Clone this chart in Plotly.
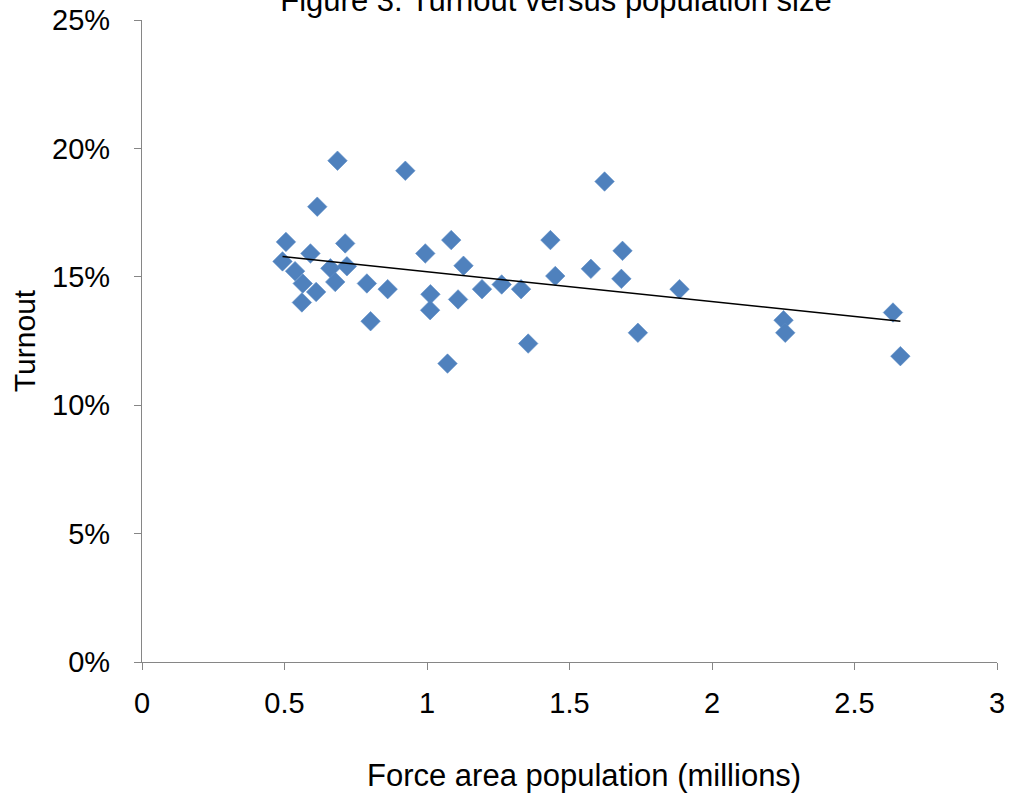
import numpy as np
import plotly.graph_objects as go

# Police force areas: population (millions) and election turnout (fraction)
population_m = [
    0.493, 0.505, 0.537, 0.564, 0.561, 0.591, 0.611, 0.615, 0.661, 0.678,
    0.686, 0.719, 0.713, 0.789, 0.802, 0.862, 0.924, 0.994, 1.012, 1.011,
    1.072, 1.085, 1.128, 1.109, 1.193, 1.262, 1.330, 1.355, 1.433, 1.450,
    1.575, 1.623, 1.686, 1.682, 1.740, 1.886, 2.251, 2.257, 2.635, 2.661,
]
turnout_pct = [
    15.60, 16.36, 15.22, 14.74, 14.00, 15.91, 14.41, 17.73, 15.33, 14.80,
    19.52, 15.41, 16.30, 14.74, 13.27, 14.52, 19.13, 15.91, 14.32, 13.70,
    11.62, 16.43, 15.43, 14.12, 14.52, 14.70, 14.52, 12.40, 16.43, 15.03,
    15.31, 18.71, 16.01, 14.92, 12.82, 14.52, 13.31, 12.82, 13.61, 11.91,
]
x_ticks = [0, 0.5, 1, 1.5, 2, 2.5, 3]
y_ticks = [0, 0.05, 0.10, 0.15, 0.20, 0.25]

x = np.array(population_m)
y = np.array(turnout_pct) / 100.0

# Least-squares linear trendline over the data range
slope, intercept = np.polyfit(x, y, 1)
trend_x = np.array([x.min(), x.max()])
trend_y = slope * trend_x + intercept

FONT = "Liberation Sans, Arial, sans-serif"
AXIS_GREY = "#868686"

fig = go.Figure()
fig.add_trace(go.Scatter(
    x=x, y=y, mode="markers",
    marker=dict(symbol="diamond", size=15, color="#4F81BD",
                line=dict(width=0.6, color="#5B8BC6")),
    showlegend=False, hoverinfo="x+y",
))
fig.add_trace(go.Scatter(
    x=trend_x, y=trend_y, mode="lines",
    line=dict(color="black", width=1.5),
    showlegend=False, hoverinfo="skip",
))

fig.update_layout(
    width=1012, height=796,
    paper_bgcolor="white", plot_bgcolor="white",
    margin=dict(l=142, r=15, t=20, b=134, autoexpand=False),
    font=dict(family=FONT, size=29, color="black"),
    title=dict(text="Figure 3: Turnout versus population size",
               x=556 / 1012, xanchor="center", xref="container",
               y=1.0, yanchor="middle", yref="container",
               font=dict(family=FONT, size=31, color="black")),
    xaxis=dict(
        range=[0, 3], tickvals=x_ticks, ticktext=[f"{v:g}" for v in x_ticks],
        showgrid=False, zeroline=False, automargin=False,
        showline=True, linecolor=AXIS_GREY, linewidth=1.3,
        ticks="outside", ticklen=7, tickcolor=AXIS_GREY, tickwidth=1.3,
        ticklabelstandoff=8,
    ),
    yaxis=dict(
        range=[0, 0.25], tickvals=y_ticks, tickformat=".0%",
        showgrid=False, zeroline=False, automargin=False,
        showline=True, linecolor=AXIS_GREY, linewidth=1.3,
        ticks="outside", ticklen=7, tickcolor=AXIS_GREY, tickwidth=1.3,
        ticklabelstandoff=18,
        title=dict(text="Turnout", standoff=7,
                   font=dict(family=FONT, size=30)),
    ),
    annotations=[dict(
        text="Force area population (millions)",
        xref="paper", yref="paper", x=0.517, y=-0.1766,
        xanchor="center", yanchor="middle", showarrow=False,
        font=dict(family=FONT, size=31, color="black"),
    )],
)

fig.write_html("out.html")
